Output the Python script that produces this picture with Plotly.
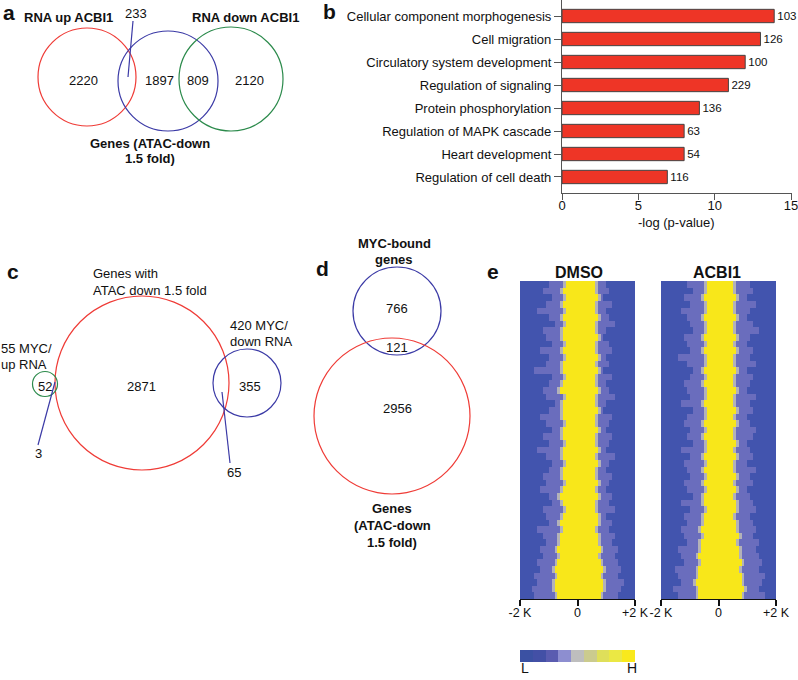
import plotly.graph_objects as go

W, H = 798, 680
FONT = "Liberation Sans, Arial, sans-serif"

# ---------------- data ----------------
# panel a (Venn counts)
a_counts = {"up_only": 2220, "up_atac": 233, "atac_only": 1897, "atac_down": 809, "down_only": 2120}
a_titles = ["RNA up ACBI1", "RNA down ACBI1", ["Genes (ATAC-down", "1.5 fold)"]]

# panel b (GO terms)
go_terms = ["Cellular component morphogenesis", "Cell migration", "Circulatory system development",
            "Regulation of signaling", "Protein phosphorylation", "Regulation of MAPK cascade",
            "Heart development", "Regulation of cell death"]
go_logp = [13.9, 13.0, 12.0, 10.9, 9.0, 8.0, 8.0, 6.9]
go_genes = [103, 126, 100, 229, 136, 63, 54, 116]
go_ticks = [0, 5, 10, 15]

# panel c (Venn counts)
c_counts = {"up_only": 52, "up_atac": 3, "atac_only": 2871, "down_atac": 65, "down_only": 355}
c_titles = [["Genes with", "ATAC down 1.5 fold"], ["55 MYC/", "up RNA"], ["420 MYC/", "down RNA"]]

# panel d (Venn counts)
d_counts = {"myc_only": 766, "both": 121, "atac_only": 2956}
d_titles = [["MYC-bound", "genes"], ["Genes", "(ATAC-down", "1.5 fold)"]]

# panel e (heatmap rows: band edges in units of 100 bp, top to bottom)
dmso_outer_l = [-10,-12,-9,-11,-14,-10,-8,-12,-11,-9,-13,-10,-11,-15,-9,-10,-12,-11,-8,-10,-13,-11,-9,-12,
                -10,-14,-11,-9,-10,-12,-11,-13,-10,-9,-12,-11,-10,-14,-12,-11,-13,-12,-14,-13,-15,-14,-16,-15]
dmso_core_l = [-4,-5,-4,-5,-4,-5,-4,-5,-5,-4,-5,-4,-5,-5,-4,-5,-6,-4,-5,-5,-5,-4,-5,-5,
               -4,-5,-5,-4,-5,-5,-4,-5,-6,-5,-4,-5,-6,-5,-6,-6,-7,-6,-7,-8,-7,-8,-8,-7]
dmso_core_r = [6,6,7,6,6,7,6,6,7,6,6,7,6,7,6,6,7,6,6,7,6,6,7,6,
               6,7,6,7,6,6,7,6,7,6,6,7,7,6,7,7,8,7,8,9,8,9,9,8]
dmso_outer_r = [10,11,9,12,10,11,13,10,9,11,12,10,11,9,12,10,11,13,10,9,12,11,10,12,
                11,10,13,11,10,12,11,10,12,11,13,10,12,11,13,12,14,13,14,15,14,16,15,14]

acbi_outer_l = [-11,-9,-12,-10,-13,-11,-10,-9,-12,-11,-10,-14,-11,-9,-10,-12,-11,-10,-13,-9,-11,-12,-10,-11,
                -9,-13,-10,-12,-11,-10,-12,-11,-9,-13,-10,-12,-11,-13,-12,-11,-14,-13,-12,-15,-14,-13,-16,-14]
acbi_core_l = [-4,-4,-5,-4,-4,-5,-4,-4,-5,-4,-5,-4,-4,-5,-4,-5,-4,-4,-5,-4,-4,-5,-4,-5,
               -4,-4,-5,-4,-5,-4,-5,-4,-5,-5,-4,-5,-5,-6,-5,-6,-6,-7,-6,-7,-7,-8,-7,-7]
acbi_core_r = [5,5,6,5,5,6,5,5,6,5,6,5,5,6,5,5,6,5,5,6,5,6,5,5,
               6,5,6,5,5,6,5,6,5,6,6,5,6,6,7,6,7,7,8,7,8,8,9,8]
acbi_outer_r = [11,12,10,13,11,10,12,14,11,10,12,11,13,10,12,11,10,13,11,12,10,11,13,12,
                10,11,12,10,13,11,12,10,11,12,13,11,12,13,12,14,13,14,15,14,16,15,14,16]

heat_x = [-19.5 + i for i in range(40)]
heat_ticks = [-20, 0, 20]
heat_ticktext = ["-2 K", "0", "+2 K"]
legend_levels = list(range(9))
legend_colors = ['#3b51a3', '#4350a6', '#5a5cb0', '#8d8ed0', '#bebebe', '#cbcb8e', '#dfdf5a', '#ebe844', '#f9e91c']

# ---------------- helpers ----------------
def px(x):
    return x / W

def py(y):
    return 1 - y / H

RED, BLUE, GREEN = "#ef3b36", "#3b3aa6", "#2b8a4b"

shapes = []
annotations = []

def circle(cx, cy, r, color):
    shapes.append(dict(type="circle", xref="paper", yref="paper",
                       x0=px(cx - r), x1=px(cx + r), y0=py(cy + r), y1=py(cy - r),
                       line=dict(color=color, width=1.2), fillcolor="rgba(0,0,0,0)"))

def seg(x0, y0, x1, y1, color=BLUE):
    shapes.append(dict(type="line", xref="paper", yref="paper",
                       x0=px(x0), y0=py(y0), x1=px(x1), y1=py(y1),
                       line=dict(color=color, width=1.2)))

def text(t, x, y, size=13, bold=False, xanchor="center", gap=16):
    lines = t if isinstance(t, list) else [t]
    for i, line in enumerate(lines):
        s = "<b>%s</b>" % line if bold else line
        annotations.append(dict(text=s, x=px(x), y=py(y + i * gap), xref="paper", yref="paper",
                                showarrow=False, xanchor=xanchor, yanchor="middle",
                                borderpad=0, font=dict(family=FONT, size=size, color="#111")))

# ---------------- panel a ----------------
text("a", 9, 12, 21, True)
circle(87, 77, 49, RED)
circle(168, 81, 50, BLUE)
circle(231, 79, 52, GREEN)
text(a_titles[0], 68, 17, 13, True)
text(a_titles[1], 245, 17, 13, True)
text(a_titles[2], 150, 143, 13, True, gap=15)
text(str(a_counts["up_only"]), 83, 80)
text(str(a_counts["atac_only"]), 159, 80)
text(str(a_counts["atac_down"]), 198, 80)
text(str(a_counts["down_only"]), 249, 80)
text(str(a_counts["up_atac"]), 136, 13)
seg(133, 21, 128, 77)

# ---------------- panel c ----------------
text("c", 13, 271, 21, True)
circle(142, 383, 87, RED)
circle(45, 384, 12.5, GREEN)
circle(247, 383, 34, BLUE)
text(c_titles[0], 92, 273, 13, False, "left", gap=17)
text(c_titles[1], 0, 348, 13, False, "left")
text(c_titles[2], 229, 325, 13, False, "left")
text(str(c_counts["up_only"]), 45, 386)
text(str(c_counts["atac_only"]), 141, 386)
text(str(c_counts["down_only"]), 250, 386)
text(str(c_counts["up_atac"]), 38, 453)
text(str(c_counts["down_atac"]), 234, 472)
seg(55, 382, 38, 445)
seg(222, 392, 230, 463)

# ---------------- panel d ----------------
text("d", 322, 269, 21, True)
circle(397, 311, 44, BLUE)
circle(392, 416, 78, RED)
text(d_titles[0], 394, 243, 13, True)
text(d_titles[1], 392, 508, 13, True, gap=17)
text(str(d_counts["myc_only"]), 397, 309)
text(str(d_counts["both"]), 397, 347)
text(str(d_counts["atac_only"]), 397, 408)

# ---------------- panel b ----------------
text("b", 329, 11, 21, True)
fig = go.Figure()
fig.add_trace(go.Bar(
    x=go_logp, y=list(range(len(go_terms))), orientation="h",
    marker=dict(color="#ee3526", line=dict(color="#444", width=1)),
    width=0.58, text=[str(v) for v in go_genes], textposition="outside",
    textfont=dict(family=FONT, size=13, color="#111"), cliponaxis=False,
    xaxis="x", yaxis="y", showlegend=False, hoverinfo="skip"))
text("-log (p-value)", 676, 223, 13)

# ---------------- panel e ----------------
def build(ol, cl, cr, orr):
    z = []
    for a, b, c, d in zip(ol, cl, cr, orr):
        row = []
        for x in heat_x:
            if b <= x <= c:
                v = 1.0
            elif (b - 1 <= x < b) or (c < x <= c + 1):
                v = 0.55
            elif (a <= x < b) or (c < x <= d):
                v = 0.3
            else:
                v = 0.0
            row.append(v)
        z.append(row)
    return z

heat_scale = [[0, "#4254ae"], [0.3, "#6a6dbd"], [0.55, "#b3b2b8"], [1, "#f8e71a"]]
fig.add_trace(go.Heatmap(z=build(dmso_outer_l, dmso_core_l, dmso_core_r, dmso_outer_r), x=heat_x,
                         colorscale=heat_scale, zmin=0, zmax=1, showscale=False,
                         xaxis="x2", yaxis="y2", hoverinfo="skip"))
fig.add_trace(go.Heatmap(z=build(acbi_outer_l, acbi_core_l, acbi_core_r, acbi_outer_r), x=heat_x,
                         colorscale=heat_scale, zmin=0, zmax=1, showscale=False,
                         xaxis="x3", yaxis="y3", hoverinfo="skip"))
n = len(legend_colors)
disc = []
for i, c in enumerate(legend_colors):
    disc += [[i / n, c], [(i + 1) / n, c]]
fig.add_trace(go.Heatmap(z=[legend_levels], colorscale=disc, zmin=-0.5, zmax=n - 0.5,
                         showscale=False, xaxis="x4", yaxis="y4", hoverinfo="skip"))
text("e", 493, 271, 21, True)
text("DMSO", 579, 272, 16, True)
text("ACBI1", 717, 272, 16, True)
text("L", 525, 668, 14, False)
text("H", 632, 668, 14, False)

tickfont = dict(family=FONT, size=13, color="#111")
heat_x_common = dict(range=[-20, 20], tickvals=heat_ticks, ticktext=heat_ticktext, ticks="outside",
                     ticklen=6, tickwidth=1.5, tickcolor="#111", showline=True, linecolor="#111",
                     linewidth=1, showgrid=False, zeroline=False,
                     tickfont=dict(family=FONT, size=12.5, color="#111"), fixedrange=True,
                     automargin=False, ticklabelstandoff=-4)
heat_y_common = dict(autorange="reversed", visible=False, showgrid=False, zeroline=False, automargin=False)

XMAX = 15.05
fig.update_layout(
    width=W, height=H, margin=dict(l=0, r=0, t=0, b=0, pad=0, autoexpand=False),
    paper_bgcolor="white", plot_bgcolor="white",
    font=dict(family=FONT, size=13, color="#111"),
    xaxis=dict(domain=[px(562), px(562 + 229 * XMAX / 15)], range=[0, XMAX], tickvals=go_ticks,
               ticks="outside", ticklen=6, tickcolor="#555", showline=True, linecolor="#555",
               linewidth=1.2, showgrid=False, zeroline=False, anchor="y", tickfont=tickfont,
               automargin=False, ticklabelstandoff=-6, ticklabeloverflow="allow"),
    yaxis=dict(domain=[py(193), py(0)], range=[7.696, -0.696], tickvals=list(range(len(go_terms))),
               ticktext=go_terms, ticks="outside", ticklen=7, tickcolor="#555", showline=True,
               linecolor="#555", linewidth=1.2, showgrid=False, zeroline=False, anchor="x",
               tickfont=tickfont, automargin=False),
    xaxis2=dict(domain=[px(520), px(635)], anchor="y2", **heat_x_common),
    yaxis2=dict(domain=[py(599), py(281)], anchor="x2", **heat_y_common),
    xaxis3=dict(domain=[px(661), px(776)], anchor="y3", **heat_x_common),
    yaxis3=dict(domain=[py(599), py(281)], anchor="x3", **heat_y_common),
    xaxis4=dict(domain=[px(520), px(635)], anchor="y4", visible=False, automargin=False),
    yaxis4=dict(domain=[py(662), py(650)], anchor="x4", visible=False, automargin=False),
    shapes=shapes, annotations=annotations,
)

fig.write_html("out.html", config={"displayModeBar": False},
               post_script="document.body.style.margin='0';document.body.style.overflow='hidden';")
